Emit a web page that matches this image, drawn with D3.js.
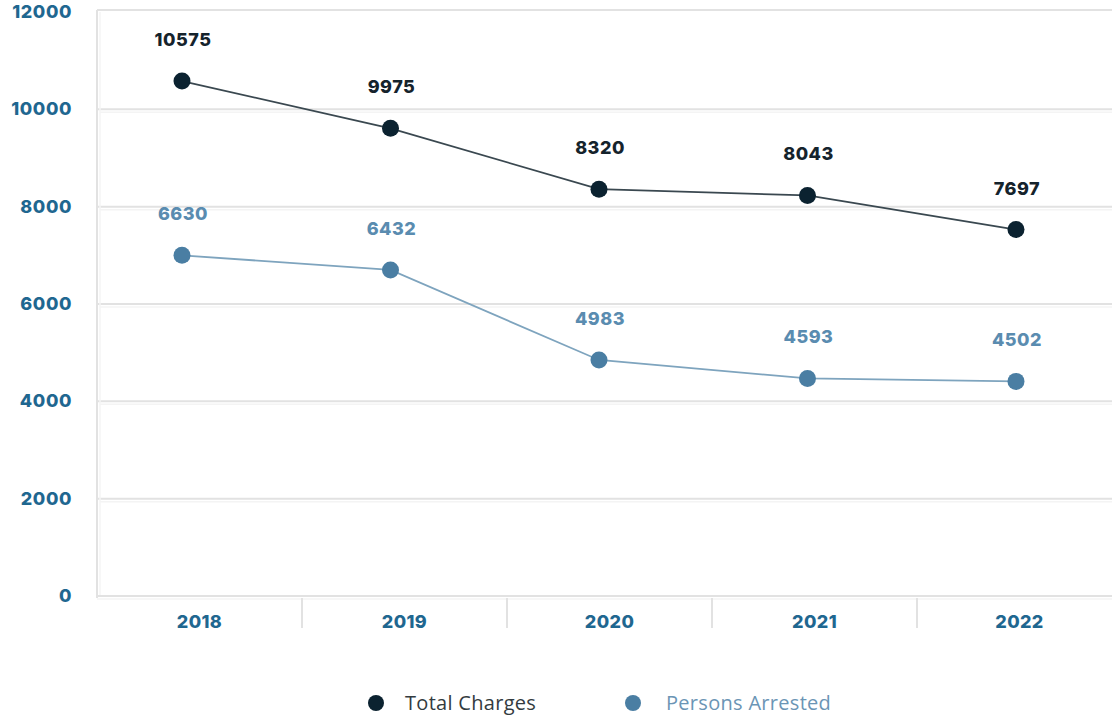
<!DOCTYPE html>
<html>
<head>
<meta charset="utf-8">
<script src="https://cdn.jsdelivr.net/npm/d3@7"></script>
<style>
  body { margin: 0; background: #ffffff; }
  svg { display: block; }
</style>
</head>
<body>
<script>
const width = 1112
const height = 717

// data
const years = ["2018", "2019", "2020", "2021", "2022"]
const totalCharges = [10580, 9610, 8360, 8230, 7530]        // plotted positions
const totalLabels = ["10575", "9975", "8320", "8043", "7697"]
const personsArrested = [7000, 6700, 4850, 4470, 4410]
const personsLabels = ["6630", "6432", "4983", "4593", "4502"]
const yTicks = [0, 2000, 4000, 6000, 8000, 10000, 12000]

const dark_color = "#0b2230"
const blue_color = "#4a7ea3"
const tick_color = "#1f6790"
const grid_color = "#e2e2e2"
const font = "Inter, 'Open Sans', sans-serif"

var svg = d3.select("body").append("svg")
    .attr("width", width)
    .attr("height", height)

var y = d3.scaleLinear().domain([0, 12000]).range([596, 12])
var xBand = d3.scaleBand().domain(years).range([97, 1122])
var xPoint = d3.scalePoint().domain(years).range([182, 1016])

// gridlines (double light line look)
svg.append("g").selectAll("line")
    .data(yTicks.slice(1, -1))
    .join("line")
    .attr("x1", 97).attr("x2", width)
    .attr("y1", d => y(d)).attr("y2", d => y(d))
    .style("stroke", grid_color).style("stroke-width", 2)
svg.append("g").selectAll("line")
    .data(yTicks.slice(1, -1))
    .join("line")
    .attr("x1", 100).attr("x2", width)
    .attr("y1", d => y(d) + 3).attr("y2", d => y(d) + 3)
    .style("stroke", "#f4f4f4").style("stroke-width", 1.5)

// frame: top, left, bottom
svg.append("line").attr("x1", 97).attr("x2", width).attr("y1", 10).attr("y2", 10)
    .style("stroke", grid_color).style("stroke-width", 2)
svg.append("line").attr("x1", 97).attr("x2", 97).attr("y1", 10).attr("y2", 598)
    .style("stroke", grid_color).style("stroke-width", 2)
svg.append("line").attr("x1", 100).attr("x2", 100).attr("y1", 12).attr("y2", 596)
    .style("stroke", "#f4f4f4").style("stroke-width", 1.5)
svg.append("line").attr("x1", 97).attr("x2", width).attr("y1", y(0)).attr("y2", y(0))
    .style("stroke", grid_color).style("stroke-width", 2)
svg.append("line").attr("x1", 97).attr("x2", width).attr("y1", y(0) + 3).attr("y2", y(0) + 3)
    .style("stroke", "#f4f4f4").style("stroke-width", 1.5)

// x band separators
svg.append("g").selectAll("line")
    .data(years.slice(1))
    .join("line")
    .attr("x1", d => xBand(d)).attr("x2", d => xBand(d))
    .attr("y1", 598).attr("y2", 628)
    .style("stroke", grid_color).style("stroke-width", 2)

// y axis labels
svg.append("g").selectAll("text")
    .data(yTicks)
    .join("text")
    .attr("x", 72)
    .attr("y", d => y(d) + 6)
    .attr("text-anchor", "end")
    .style("font-family", font).style("font-weight", 800).style("font-size", "18px")
    .style("letter-spacing", "0.6px")
    .style("fill", tick_color)
    .text(d => d)

// x axis labels
svg.append("g").selectAll("text")
    .data(years)
    .join("text")
    .attr("x", d => xBand(d) + xBand.bandwidth() / 2)
    .attr("y", 628)
    .attr("text-anchor", "middle")
    .style("font-family", font).style("font-weight", 800).style("font-size", "18px")
    .style("letter-spacing", "0.4px")
    .style("fill", tick_color)
    .text(d => d)

function drawSeries(values, labels, lineColor, dotColor, labelColor) {
  var line = d3.line().x((d, i) => xPoint(years[i])).y(d => y(d))
  svg.append("path")
      .datum(values)
      .attr("d", line)
      .style("fill", "none")
      .style("stroke", lineColor)
      .style("stroke-width", 1.8)
  svg.append("g").selectAll("circle")
      .data(values)
      .join("circle")
      .attr("cx", (d, i) => xPoint(years[i]))
      .attr("cy", d => y(d))
      .attr("r", 8.5)
      .style("fill", dotColor)
  svg.append("g").selectAll("text")
      .data(values)
      .join("text")
      .attr("x", (d, i) => xPoint(years[i]) + 1)
      .attr("y", d => y(d) - 35)
      .attr("text-anchor", "middle")
      .style("font-family", font).style("font-weight", 800).style("font-size", "18px")
      .style("letter-spacing", "0.5px")
      .style("fill", labelColor)
      .text((d, i) => labels[i])
}

drawSeries(totalCharges, totalLabels, "#3a4850", dark_color, "#15232c")
drawSeries(personsArrested, personsLabels, "#7ea4be", blue_color, "#5a8cb0")

// legend
var legend = svg.append("g")
legend.append("circle").attr("cx", 376).attr("cy", 703).attr("r", 8).style("fill", dark_color)
legend.append("text").attr("x", 405).attr("y", 710)
    .style("font-family", "'Open Sans', sans-serif").style("font-size", "20px")
    .style("letter-spacing", "0.3px")
    .style("fill", "#333b40").text("Total Charges")
legend.append("circle").attr("cx", 633).attr("cy", 703).attr("r", 8).style("fill", blue_color)
legend.append("text").attr("x", 666).attr("y", 710)
    .style("font-family", "'Open Sans', sans-serif").style("font-size", "20px")
    .style("letter-spacing", "0.3px")
    .style("fill", "#6b95b5").text("Persons Arrested")
</script>
</body>
</html>
